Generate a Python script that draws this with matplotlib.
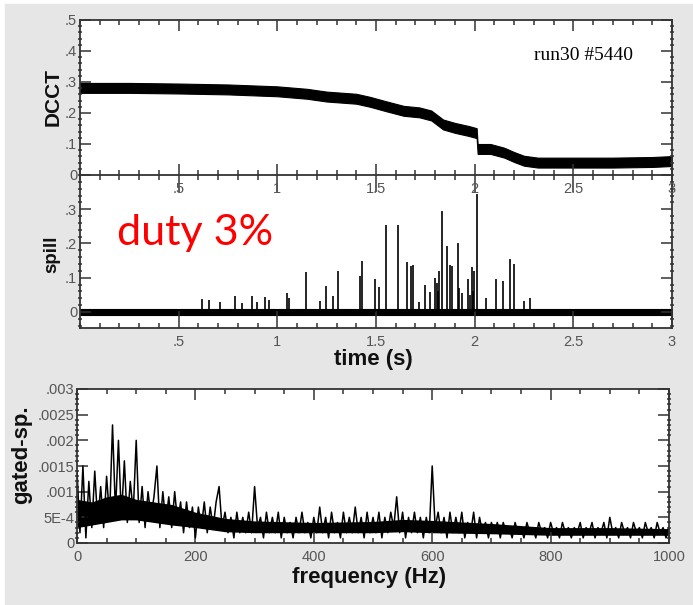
import numpy as np
import matplotlib
matplotlib.use("Agg")
import matplotlib.pyplot as plt
from matplotlib.patches import Rectangle
from matplotlib.ticker import MultipleLocator

plt.rcParams['font.family'] = ['Liberation Sans', 'DejaVu Sans']

# DCCT trace: centre of the noisy band
dcct_t = [0, 0.25, 0.5, 0.75, 1.0, 1.15, 1.25, 1.4, 1.47, 1.55, 1.64, 1.72, 1.78,
          1.84, 1.9, 1.97, 2.01, 2.015, 2.08, 2.15, 2.2, 2.25, 2.32, 2.5, 2.7, 2.9, 3.0]
dcct_c = [0.281, 0.281, 0.279, 0.276, 0.270, 0.262, 0.253, 0.246, 0.236, 0.222, 0.207,
          0.202, 0.192, 0.163, 0.152, 0.142, 0.135, 0.084, 0.084, 0.072, 0.058, 0.046,
          0.040, 0.040, 0.040, 0.042, 0.045]
dcct_noise = 0.016

# spill: baseline noise band and the spikes on top of it
spill_t = [0, 3]
spill_base = [0, 0]
spill_noise = 0.009
spike_t = [0.62, 0.655, 0.71, 0.787, 0.82, 0.87, 0.895, 0.937, 0.957, 1.048, 1.06,
           1.145, 1.216, 1.247, 1.283, 1.308, 1.42, 1.428, 1.495, 1.514, 1.549, 1.613,
           1.656, 1.678, 1.69, 1.718, 1.749, 1.774, 1.8, 1.808, 1.815, 1.82, 1.833,
           1.858, 1.875, 1.884, 1.914, 1.923, 1.934, 1.968, 1.975, 1.985, 1.99, 1.997,
           2.012, 2.058, 2.108, 2.146, 2.179, 2.2, 2.252, 2.28]
spike_h = [0.038, 0.035, 0.030, 0.047, 0.025, 0.047, 0.030, 0.044, 0.035, 0.056, 0.042,
           0.116, 0.032, 0.076, 0.047, 0.120, 0.105, 0.150, 0.097, 0.074, 0.253, 0.253,
           0.147, 0.133, 0.138, 0.030, 0.080, 0.058, 0.100, 0.085, 0.06, 0.120, 0.294,
           0.193, 0.138, 0.135, 0.200, 0.070, 0.055, 0.096, 0.05, 0.130, 0.06, 0.120,
           0.344, 0.040, 0.096, 0.090, 0.155, 0.140, 0.033, 0.040]

# gated spill spectrum, 0..1000 Hz in 5 Hz bins, units of 1e-4
spec_vals = [14, 2, 15, 1, 12, 3, 14, 4, 11, 3, 13, 5, 23, 6, 20, 5, 16, 4, 12, 6, 20,
             4, 11, 3, 10, 5, 9, 15, 3, 10, 4, 9, 3, 10, 4, 8, 2, 8, 3, 7, 1,
             7, 3, 8, 2, 7, 3, 8, 11, 3, 6, 2, 5, 1, 6, 2, 5, 2, 6, 2, 11,
             3, 5, 1, 6, 2, 5, 2, 6, 1, 5, 2, 4, 1, 5, 2, 6, 2, 4, 1, 5,
             2, 7, 2, 5, 1, 6, 2, 4, 1, 6, 2, 5, 2, 7, 2, 5, 1, 6, 2, 5,
             2, 6, 1, 5, 2, 6, 3, 9, 2, 6, 1, 5, 2, 6, 2, 5, 1, 5, 2, 15,
             3, 6, 2, 5, 1, 6, 2, 5, 2, 6, 1, 4, 2, 6, 1, 5, 2, 4, 1, 4,
             2, 4, 1, 4, 2, 3, 1, 4, 2, 3, 1, 4, 2, 3, 1, 4, 2, 3, 1, 4,
             2, 3, 1, 4, 2, 3, 1, 3, 2, 4, 1, 3, 2, 4, 1, 3, 2, 4, 1, 5,
             2, 3, 1, 4, 2, 3, 1, 4, 2, 3, 1, 4, 2, 3, 1, 4, 2, 3, 1, 3]
# dense core of the spectrum (where the trace is solid black), units of 1e-4
core_f = [0, 25, 50, 75, 100, 130, 160, 200, 250, 300, 400, 500, 550, 600, 700, 800, 900, 1000]
core_lo = [3, 3.5, 4, 4.5, 4.5, 4, 3.5, 3, 2.2, 2, 2, 2, 2.2, 2, 1.8, 1.5, 1.5, 1.5]
core_hi = [8.5, 8, 9, 9.5, 8.5, 8, 7.5, 6, 4.8, 4.3, 4, 4.2, 4.6, 4.4, 3.8, 3, 3, 2.8]

time_ticks = [0.5, 1, 1.5, 2, 2.5, 3]
time_labels = ['.5', '1', '1.5', '2', '2.5', '3']
dcct_ticks = [0, 0.1, 0.2, 0.3, 0.4, 0.5]
dcct_labels = ['0', '.1', '.2', '.3', '.4', '.5']
spill_ticks = [0, 0.1, 0.2, 0.3]
spill_labels = ['0', '.1', '.2', '.3']
freq_ticks = [0, 200, 400, 600, 800, 1000]
freq_labels = ['0', '200', '400', '600', '800', '1000']
gsp_ticks = [0, 0.0005, 0.001, 0.0015, 0.002, 0.0025, 0.003]
gsp_labels = ['0', '5E-4', '.001', '.0015', '.002', '.0025', '.003']

W, H = 693, 605
fig = plt.figure(figsize=(W / 100, H / 100), dpi=100)
fig.patches.append(Rectangle((5 / W, 0), 1, 1 - 4 / H, transform=fig.transFigure,
                             color='#e6e6e6', zorder=-10))


def box(l, t, r, b):
    return [l / W, 1 - b / H, (r - l) / W, (b - t) / H]


ax1 = fig.add_axes(box(80, 20, 672, 175))
ax2 = fig.add_axes(box(80, 175, 672, 328))
ax3 = fig.add_axes(box(77, 389, 669, 543))
ax1.set_zorder(3)
ax2.set_zorder(1)
ax3.set_zorder(1)

tcol = '#555555'
for ax in (ax1, ax2, ax3):
    for s in ax.spines.values():
        s.set_linewidth(1.3)
        s.set_color('#333333')
    ax.tick_params(which='both', direction='in', top=True, right=True,
                   color='#333333', width=1.1, labelsize=10.5, labelcolor=tcol)
    ax.tick_params(which='major', length=8, pad=5)
    ax.tick_params(which='minor', length=3.5)
    ax.tick_params(axis='y', which='minor', direction='inout', length=3)
    ax.tick_params(axis='y', which='major', pad=2)

# top: DCCT
x = np.array(dcct_t)
c = np.array(dcct_c)
ax1.fill_between(x, c - dcct_noise, c + dcct_noise, color='black', lw=0.8)
ax1.set_xlim(0, 3)
ax1.set_ylim(0, 0.5)
ax1.set_xticks(time_ticks, time_labels)
ax1.set_yticks(dcct_ticks, dcct_labels)
ax1.xaxis.set_minor_locator(MultipleLocator(0.1))
ax1.yaxis.set_minor_locator(MultipleLocator(0.02))
ax1.text(2.3, 0.372, 'run30 #5440', family=['Liberation Serif', 'DejaVu Serif'],
         fontsize=14, color='black')

# middle: spill
b = np.array(spill_base)
ax2.fill_between(spill_t, b - spill_noise, b + spill_noise, color='black', lw=0.8)
ax2.vlines(spike_t, 0, spike_h, color='black', lw=1.2)
ax2.set_xlim(0, 3)
ax2.set_ylim(-0.047, 0.40)
ax2.set_xticks(time_ticks, time_labels)
ax2.set_yticks(spill_ticks, spill_labels)
ax2.xaxis.set_minor_locator(MultipleLocator(0.1))
ax2.yaxis.set_minor_locator(MultipleLocator(0.02))
ax2.spines['top'].set_visible(False)
ax2.tick_params(axis='x', which='major', length=12)

# bottom: gated spectrum
ax3.fill_between(core_f, np.array(core_lo) * 1e-4, np.array(core_hi) * 1e-4,
                 color='black', lw=0)
f = np.linspace(0, 1000, len(spec_vals))
ax3.plot(f, np.array(spec_vals) * 1e-4, color='black', lw=1.1)
ax3.set_xlim(0, 1000)
ax3.set_ylim(0, 0.003)
ax3.set_xticks(freq_ticks, freq_labels)
ax3.set_yticks(gsp_ticks, gsp_labels)
ax3.xaxis.set_minor_locator(MultipleLocator(50))
ax3.yaxis.set_minor_locator(MultipleLocator(0.0001))

bold = dict(fontweight='bold', color='#111111', ha='center', va='center')
fig.text(53 / W, 1 - 97 / H, 'DCCT', rotation=90, fontsize=15, **bold)
fig.text(52 / W, 1 - 254 / H, 'spill', rotation=90, fontsize=13.5, **bold)
fig.text(373 / W, 1 - 360 / H, 'time (s)', fontsize=16, **bold)
fig.text(22 / W, 1 - 455 / H, 'gated-sp.', rotation=90, fontsize=16, **bold)
fig.text(369 / W, 1 - 577 / H, 'frequency (Hz)', fontsize=16, **bold)

fig.text(117 / W, 1 - 245 / H, 'duty 3%', color='#ff0000', fontsize=31,
         family=['Lato', 'DejaVu Sans'], ha='left', va='baseline')

fig.savefig('out.png', dpi=100)
